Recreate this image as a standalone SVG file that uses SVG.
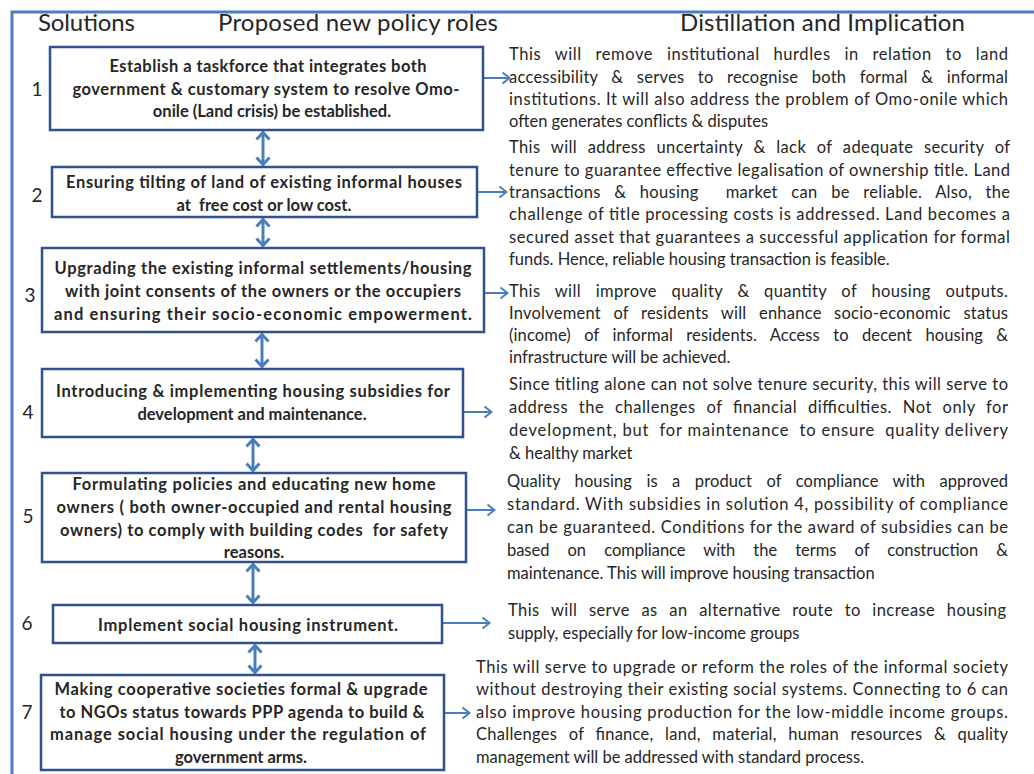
<svg xmlns="http://www.w3.org/2000/svg" width="1034" height="774" viewBox="0 0 1034 774">
<defs>
<style>
.frame{stroke:#4a7ebb;stroke-width:3;fill:none}
.box{fill:#ffffff;stroke:#2f528f;stroke-width:2.5}
.bt{font-family:Lato,"Liberation Sans",sans-serif;font-weight:bold;font-size:16.5px;fill:#262626;text-anchor:middle}
.rt{font-family:Lato,"Liberation Sans",sans-serif;font-size:16.5px;fill:#262626}
.hd{font-family:Lato,"Liberation Sans",sans-serif;font-size:24px;fill:#262626}
.num{font-family:Lato,"Liberation Sans",sans-serif;font-size:19px;fill:#262626;text-anchor:middle}
.dbl{stroke:#4a7ebb;stroke-width:3;fill:none;marker-start:url(#dh);marker-end:url(#dh)}
.arr{stroke:#4a7ebb;stroke-width:2;fill:none;marker-end:url(#ah)}
</style>
<marker id="dh" viewBox="0 0 10 16" refX="9" refY="8" markerWidth="10" markerHeight="16" markerUnits="userSpaceOnUse" orient="auto-start-reverse">
<path d="M1.5,1.5 L8.5,8 L1.5,14.5" fill="none" stroke="#4a7ebb" stroke-width="3"/>
</marker>
<marker id="ah" viewBox="0 0 10 14" refX="9" refY="7" markerWidth="10" markerHeight="14" markerUnits="userSpaceOnUse" orient="auto">
<path d="M1.5,1.5 L8.5,7 L1.5,12.5" fill="none" stroke="#4a7ebb" stroke-width="2"/>
</marker>
</defs>
<rect width="1034" height="774" fill="#ffffff"/>

<g id="frame">
<polyline class="frame" points="12,774 12,12 1034,12"/>
</g>

<g id="headers">
<text class="hd" x="38" y="31" textLength="97">Solutions</text>
<text class="hd" x="218" y="31" textLength="280">Proposed new policy roles</text>
<text class="hd" x="680" y="31" textLength="285">Distillation and Implication</text>
</g>

<g id="connectors">
<line class="dbl" x1="263" y1="132" x2="263" y2="165"/>
<line class="dbl" x1="263" y1="219" x2="263" y2="246"/>
<line class="dbl" x1="262" y1="334" x2="262" y2="367"/>
<line class="dbl" x1="253" y1="439" x2="253" y2="471"/>
<line class="dbl" x1="253" y1="564" x2="253" y2="603"/>
<line class="dbl" x1="255" y1="645" x2="255" y2="673"/>
<line class="arr" x1="484" y1="78" x2="510" y2="78"/>
<line class="arr" x1="478" y1="192" x2="507" y2="192"/>
<line class="arr" x1="485" y1="293" x2="508" y2="293"/>
<line class="arr" x1="464" y1="412" x2="492" y2="412"/>
<line class="arr" x1="467" y1="510" x2="495" y2="510"/>
<line class="arr" x1="443" y1="623" x2="490" y2="623"/>
<line class="arr" x1="445" y1="713" x2="470" y2="713"/>
</g>

<g id="node1">
<text class="num" x="37" y="96">1</text>
<rect class="box" x="50" y="47" width="433" height="83"/>
<text class="bt" x="268" y="72" textLength="317">Establish a taskforce that integrates both</text>
<text class="bt" x="266" y="95" textLength="387">government &amp; customary system to resolve Omo-</text>
<text class="bt" x="272" y="117">onile (Land crisis) be established.</text>
</g>

<g id="node2">
<text class="num" x="37" y="202">2</text>
<rect class="box" x="52" y="167" width="425" height="50"/>
<text class="bt" x="264" y="188" textLength="396">Ensuring tilting of land of existing informal houses</text>
<text class="bt" x="264" y="211" xml:space="preserve">at  free cost or low cost.</text>
</g>

<g id="node3">
<text class="num" x="30" y="302">3</text>
<rect class="box" x="42" y="248" width="442" height="84"/>
<text class="bt" x="263" y="274" textLength="417">Upgrading the existing informal settlements/housing</text>
<text class="bt" x="263" y="297" textLength="396">with joint consents of the owners or the occupiers</text>
<text class="bt" x="263" y="320" textLength="418">and ensuring their socio-economic empowerment.</text>
</g>

<g id="node4">
<text class="num" x="28" y="419">4</text>
<rect class="box" x="42" y="369" width="421" height="68"/>
<text class="bt" x="253" y="397" textLength="394">Introducing &amp; implementing housing subsidies for</text>
<text class="bt" x="252" y="420">development and maintenance.</text>
</g>

<g id="node5">
<text class="num" x="28" y="523">5</text>
<rect class="box" x="42" y="473" width="424" height="89"/>
<text class="bt" x="254" y="490" textLength="363">Formulating policies and educating new home</text>
<text class="bt" x="254" y="513" textLength="395">owners ( both owner-occupied and rental housing</text>
<text class="bt" x="254" y="536" textLength="388" xml:space="preserve">owners) to comply with building codes  for safety</text>
<text class="bt" x="254" y="558">reasons.</text>
</g>

<g id="node6">
<text class="num" x="27" y="630">6</text>
<rect class="box" x="53" y="605" width="389" height="38"/>
<text class="bt" x="248" y="631" textLength="300">Implement social housing instrument.</text>
</g>

<g id="node7">
<text class="num" x="27" y="719">7</text>
<rect class="box" x="41" y="675" width="403" height="95"/>
<text class="bt" x="241" y="695" textLength="373">Making cooperative societies formal &amp; upgrade</text>
<text class="bt" x="242" y="718" textLength="365">to NGOs status towards PPP agenda to build &amp;</text>
<text class="bt" x="238" y="740" textLength="376">manage social housing under the regulation of</text>
<text class="bt" x="241" y="763">government arms.</text>
</g>

<g id="text1">
<text class="rt" x="509" y="60" textLength="499" style="word-spacing:9px">This will remove institutional hurdles in relation to land</text>
<text class="rt" x="509" y="83" textLength="499" style="word-spacing:9px">accessibility &amp; serves to recognise both formal &amp; informal</text>
<text class="rt" x="509" y="105" textLength="499">institutions. It will also address the problem of Omo-onile which</text>
<text class="rt" x="509" y="127">often generates conflicts &amp; disputes</text>
</g>

<g id="text2">
<text class="rt" x="509" y="153" textLength="501" style="word-spacing:6px">This will address uncertainty &amp; lack of adequate security of</text>
<text class="rt" x="509" y="176" textLength="501">tenure to guarantee effective legalisation of ownership title. Land</text>
<text class="rt" x="509" y="198" textLength="501" style="word-spacing:9px" xml:space="preserve">transactions &amp; housing  market can be reliable. Also, the</text>
<text class="rt" x="509" y="220" textLength="501">challenge of title processing costs is addressed. Land becomes a</text>
<text class="rt" x="509" y="243" textLength="501">secured asset that guarantees a successful application for formal</text>
<text class="rt" x="509" y="265">funds. Hence, reliable housing transaction is feasible.</text>
</g>

<g id="text3">
<text class="rt" x="509" y="297" textLength="499" style="word-spacing:10px">This will improve quality &amp; quantity of housing outputs.</text>
<text class="rt" x="509" y="319" textLength="499" style="word-spacing:8px">Involvement of residents will enhance socio-economic status</text>
<text class="rt" x="509" y="341" textLength="499" style="word-spacing:9px">(income) of informal residents. Access to decent housing &amp;</text>
<text class="rt" x="509" y="363">infrastructure will be achieved.</text>
</g>

<g id="text4">
<text class="rt" x="509" y="390" textLength="499">Since titling alone can not solve tenure security, this will serve to</text>
<text class="rt" x="509" y="413" textLength="499" style="word-spacing:6px">address the challenges of financial difficulties. Not only for</text>
<text class="rt" x="509" y="436" textLength="499" xml:space="preserve">development, but  for maintenance  to ensure  quality delivery</text>
<text class="rt" x="509" y="459">&amp; healthy market</text>
</g>

<g id="text5">
<text class="rt" x="507" y="487" textLength="501" style="word-spacing:10px">Quality housing is a product of compliance with approved</text>
<text class="rt" x="507" y="510" textLength="501">standard. With subsidies in solution 4, possibility of compliance</text>
<text class="rt" x="507" y="533" textLength="501">can be guaranteed. Conditions for the award of subsidies can be</text>
<text class="rt" x="507" y="556" textLength="501" style="word-spacing:14px">based on compliance with the terms of construction &amp;</text>
<text class="rt" x="507" y="579">maintenance. This will improve housing transaction</text>
</g>

<g id="text6">
<text class="rt" x="508" y="616" textLength="498" style="word-spacing:7px">This will serve as an alternative route to increase housing</text>
<text class="rt" x="508" y="639">supply, especially for low-income groups</text>
</g>

<g id="text7">
<text class="rt" x="476" y="673" textLength="532">This will serve to upgrade or reform the roles of the informal society</text>
<text class="rt" x="476" y="695" textLength="532">without destroying their existing social systems. Connecting to 6 can</text>
<text class="rt" x="476" y="718" textLength="532">also improve housing production for the low-middle income groups.</text>
<text class="rt" x="476" y="740" textLength="532" style="word-spacing:7px">Challenges of finance, land, material, human resources &amp; quality</text>
<text class="rt" x="476" y="763">management will be addressed with standard process.</text>
</g>
</svg>
